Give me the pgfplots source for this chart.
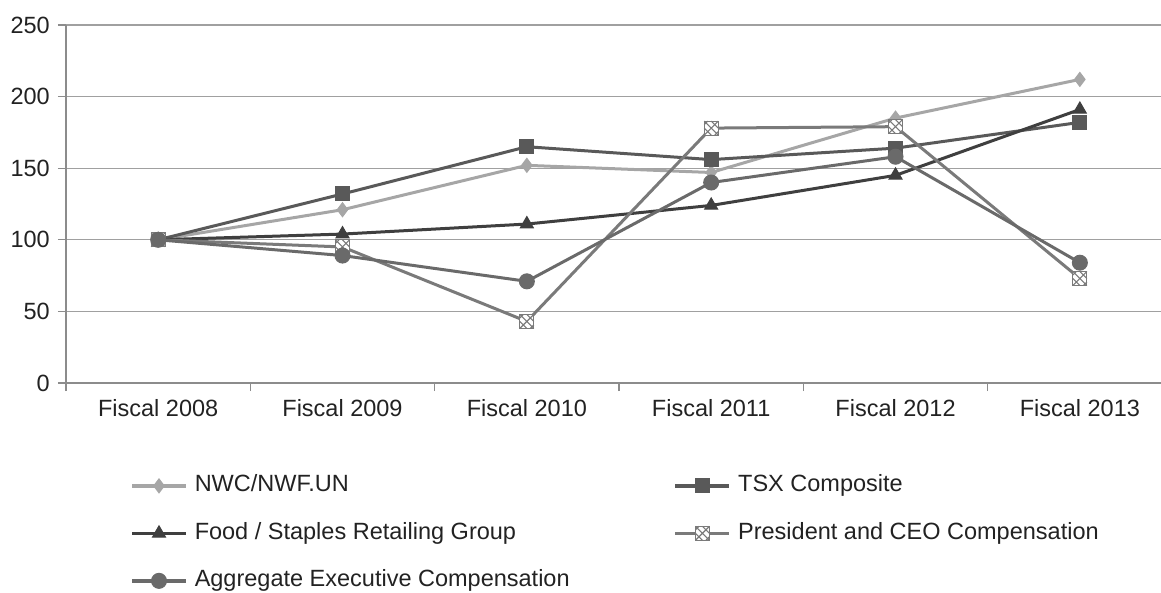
\documentclass[border=0pt]{standalone}
\usepackage{fontspec}
\setmainfont{Liberation Sans}
\usepackage{pgfplots}
\pgfplotsset{compat=1.18}
\definecolor{cNWC}{HTML}{A6A6A6}
\definecolor{cTSX}{HTML}{595959}
\definecolor{cFood}{HTML}{3F3F3F}
\definecolor{cCEO}{HTML}{7A7A7A}
\definecolor{cAgg}{HTML}{6A6A6A}
\definecolor{gridgray}{HTML}{A0A0A0}
\definecolor{axisgray}{HTML}{8C8C8C}
\definecolor{txt}{HTML}{222222}
\newcommand\cf{\fontsize{23.5bp}{28bp}\selectfont}
\pgfdeclareplotmark{hatchsq}{%
  \pgfpathrectangle{\pgfpoint{-\pgfplotmarksize}{-\pgfplotmarksize}}{\pgfpoint{2\pgfplotmarksize}{2\pgfplotmarksize}}%
  \pgfsetfillcolor{white}\pgfsetlinewidth{1bp}%
  \pgfusepathqfillstroke
  \pgfsetlinewidth{1.1bp}%
  \pgfpathmoveto{\pgfpoint{-\pgfplotmarksize}{-\pgfplotmarksize}}\pgfpathlineto{\pgfpoint{\pgfplotmarksize}{\pgfplotmarksize}}%
  \pgfpathmoveto{\pgfpoint{-\pgfplotmarksize}{\pgfplotmarksize}}\pgfpathlineto{\pgfpoint{\pgfplotmarksize}{-\pgfplotmarksize}}%
  \pgfpathmoveto{\pgfpoint{-\pgfplotmarksize}{0pt}}\pgfpathlineto{\pgfpoint{0pt}{-\pgfplotmarksize}}%
  \pgfpathmoveto{\pgfpoint{0pt}{\pgfplotmarksize}}\pgfpathlineto{\pgfpoint{\pgfplotmarksize}{0pt}}%
  \pgfpathmoveto{\pgfpoint{-\pgfplotmarksize}{0.5\pgfplotmarksize}}\pgfpathlineto{\pgfpoint{-0.5\pgfplotmarksize}{\pgfplotmarksize}}%
  \pgfpathmoveto{\pgfpoint{0.5\pgfplotmarksize}{-\pgfplotmarksize}}\pgfpathlineto{\pgfpoint{\pgfplotmarksize}{-0.5\pgfplotmarksize}}%
  \pgfusepathqstroke
}
\begin{document}
\begin{tikzpicture}
\useasboundingbox (0bp,0bp) rectangle (1161bp,593bp);
\begin{axis}[
  at={(66bp,210bp)}, anchor=south west,
  scale only axis, width=1095bp, height=358bp,
  xmin=-0.5, xmax=5.44, ymin=0, ymax=250,
  axis x line*=bottom, axis y line*=left,
  axis line style={draw=axisgray, line width=1.2bp, -},
  tick align=outside,
  tick style={draw=axisgray, line width=1.2bp},
  major tick length=8bp,
  ytick={0,50,...,250},
  ymajorgrids,
  major grid style={draw=gridgray, line width=1.2bp},
  xtick={-0.5,0.5,1.5,2.5,3.5,4.5},
  xticklabels={},
  extra x ticks={0,1,2,3,4,5},
  extra x tick labels={Fiscal 2008,Fiscal 2009,Fiscal 2010,Fiscal 2011,Fiscal 2012,Fiscal 2013},
  extra x tick style={major tick length=0pt, grid=none},
  xticklabel style={font=\cf, text=txt, inner sep=0pt, yshift=-16bp},
  yticklabel style={font=\cf, text=txt, inner sep=0pt, xshift=-8bp},
  /pgf/number format/assume math mode=true,
  every axis plot/.append style={line width=3bp},
  legend columns=2,
  legend cell align=left,
  legend style={at={(0.0585,-0.256)}, anchor=north west, draw=none, fill=none,
    font=\cf, text=txt, inner sep=0pt,
    nodes={inner sep=0pt, text height=17bp, text depth=5bp},
    row sep=25.5bp,
    /tikz/every odd column/.append style={column sep=7bp},
    /tikz/every even column/.append style={column sep=104bp}},
  legend image code/.code={\draw[mark repeat=2,mark phase=2,#1,line width=3.5bp] plot coordinates {(0bp,0bp) (27bp,0bp) (54bp,0bp)};},
]
\addplot[cNWC, mark=diamond*, mark size=7bp, mark options={solid, fill=cNWC, draw=cNWC, line width=1bp}] coordinates {(0,100) (1,121) (2,152) (3,147) (4,185) (5,212)};
\addlegendentry{NWC/NWF.UN}
\addplot[cTSX, mark=square*, mark size=7bp, mark options={solid, fill=cTSX, draw=cTSX, line width=1bp}] coordinates {(0,100) (1,132) (2,165) (3,156) (4,164) (5,182)};
\addlegendentry{TSX Composite}
\addplot[cFood, mark=triangle*, mark size=7.5bp, mark options={solid, fill=cFood, draw=cFood, line width=1bp}] coordinates {(0,100) (1,104) (2,111) (3,124) (4,145) (5,191)};
\addlegendentry{Food / Staples Retailing Group}
\addplot[cCEO, mark=hatchsq, mark size=7bp, mark options={solid, draw=cCEO}] coordinates {(0,100) (1,95) (2,43) (3,178) (4,179) (5,73)};
\addlegendentry{President and CEO Compensation}
\addplot[cAgg, mark=*, mark size=7.5bp, mark options={solid, fill=cAgg, draw=cAgg, line width=1bp}] coordinates {(0,100) (1,89) (2,71) (3,140) (4,158) (5,84)};
\addlegendentry{Aggregate Executive Compensation}
\end{axis}
\end{tikzpicture}
\end{document}
